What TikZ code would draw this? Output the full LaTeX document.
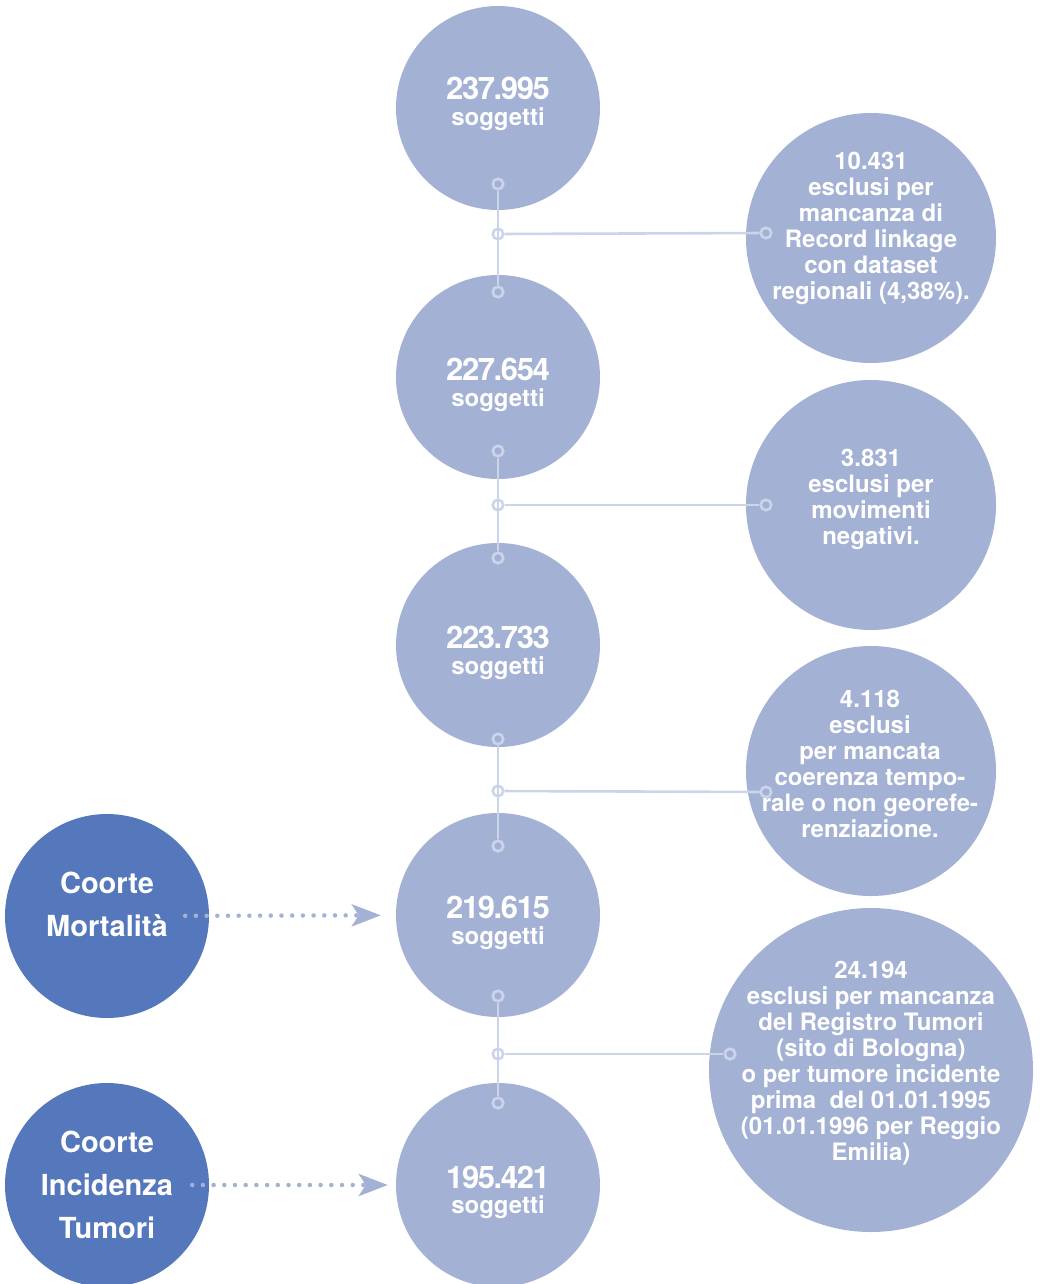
\documentclass[tikz,border=0pt]{standalone}
\usepackage{fontspec}
\setmainfont{TeX Gyre Heros}
\newfontfamily\numfont{TeX Gyre Heros}[LetterSpace=-4.5]
\usetikzlibrary{arrows.meta}
\definecolor{lightc}{HTML}{A3B1D5}
\definecolor{darkc}{HTML}{5577BC}
\definecolor{linec}{HTML}{CCD4E9}
\begin{document}
\begin{tikzpicture}[x=1pt,y=-1pt,
  bigc/.style={circle, fill=lightc, inner sep=0pt, minimum size=204pt},
  exc/.style={circle, fill=lightc, inner sep=0pt, minimum size=250pt},
  excbig/.style={circle, fill=lightc, inner sep=0pt, minimum size=324pt},
  cohort/.style={circle, fill=darkc, inner sep=0pt, minimum size=204pt},
  pin/.style={circle, draw=linec, line width=2.6pt, inner sep=0pt, minimum size=10.5pt},
  link/.style={draw=linec, line width=2.6pt},
  numtxt/.style={text=white, anchor=base, inner sep=0pt, font=\numfont\bfseries\fontsize{31}{31}\selectfont},
  sogtxt/.style={text=white, anchor=base, inner sep=0pt, font=\bfseries\fontsize{24}{24}\selectfont},
  exctxt/.style={text=white, align=center, inner sep=0pt, font=\bfseries\fontsize{24}{26}\selectfont},
  cohtxt/.style={text=white, align=center, inner sep=0pt, font=\bfseries\fontsize{29}{43}\selectfont},
  dotarrow/.style={lightc, line width=4.5pt, line cap=round, dash pattern=on 0pt off 10.7pt,
    -{Stealth[length=29pt 0 0, width=22pt 0 0, inset=7pt 0]}}
]
\useasboundingbox (0,0) rectangle (1039,1284);

% main column
\node[bigc] (c1) at (498,108) {};
\node[bigc] (c2) at (498,377) {};
\node[bigc] (c3) at (498,645) {};
\node[bigc] (c4) at (498,915) {};
\node[bigc] (c5) at (498,1185) {};

% exclusion circles
\node[exc] (r1) at (871,238) {};
\node[exc] (r2) at (871,505) {};
\node[exc] (r3) at (871,771) {};
\node[excbig] (r4) at (871,1070) {};

% cohorts
\node[cohort] (l1) at (107,916) {};
\node[cohort] (l2) at (107,1185) {};

% connectors
\node[pin] (t1) at (498,184) {};
\node[pin] (j1) at (498,234) {};
\node[pin] (b1) at (498,292) {};
\node[pin] (e1) at (766,233) {};
\node[pin] (t2) at (498,451) {};
\node[pin] (j2) at (498,505) {};
\node[pin] (b2) at (498,558) {};
\node[pin] (e2) at (766,505) {};
\node[pin] (t3) at (498,739) {};
\node[pin] (j3) at (498,791) {};
\node[pin] (b3) at (498,846) {};
\node[pin] (e3) at (766,792) {};
\node[pin] (t4) at (498,996) {};
\node[pin] (j4) at (498,1054) {};
\node[pin] (b4) at (498,1103) {};
\node[pin] (e4) at (730,1054) {};

\draw[link] (t1) -- (b1);
\draw[link] (j1) -- (e1);
\draw[link] (t2) -- (b2);
\draw[link] (j2) -- (e2);
\draw[link] (t3) -- (b3);
\draw[link] (j3) -- (e3);
\draw[link] (t4) -- (b4);
\draw[link] (j4) -- (e4);

% dotted arrows
\draw[dotarrow, shorten <=-24pt, shorten >=15pt] (l1) -- (c4);
\draw[dotarrow, shorten <=-17pt, shorten >=8pt] (l2) -- (c5);

% texts main column
\node[numtxt] (n1) at (498,100) {237.995};
\node[sogtxt] (s1) at (498,126) {soggetti};
\node[numtxt] (n2) at (498,380) {227.654};
\node[sogtxt] (s2) at (498,406) {soggetti};
\node[numtxt] (n3) at (498,648) {223.733};
\node[sogtxt] (s3) at (498,674) {soggetti};
\node[numtxt] (n4) at (498,918) {219.615};
\node[sogtxt] (s4) at (498,944) {soggetti};
\node[numtxt] (n5) at (498,1188) {195.421};
\node[sogtxt] (s5) at (498,1213) {soggetti};

% exclusion texts
\node[exctxt] (x1) at (871,228) {10.431\\esclusi per\\mancanza di\\Record linkage\\con dataset\\regionali (4,38\%).};
\node[exctxt] (x2) at (871,499) {3.831\\esclusi per\\movimenti\\negativi.};
\node[exctxt] (x3) at (870,764) {4.118\\esclusi\\per mancata\\coerenza tempo-\\rale o non georefe-\\renziazione.};
\node[exctxt] (x4) at (871,1063) {24.194\\esclusi per mancanza\\del Registro Tumori\\(sito di Bologna)\\o per tumore incidente\\prima~ del 01.01.1995\\(01.01.1996 per Reggio\\Emilia)};

% cohort texts
\node[cohtxt] (k1) at (107,904) {Coorte\\Mortalità};
\node[cohtxt] (k2) at (107,1184.5) {Coorte\\Incidenza\\Tumori};
\end{tikzpicture}
\end{document}
